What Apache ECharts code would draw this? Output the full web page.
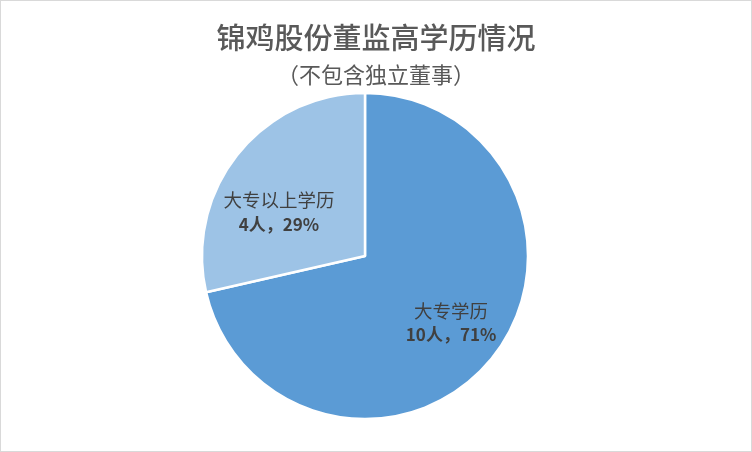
<!DOCTYPE html>
<html>
<head>
<meta charset="utf-8">
<script src="https://cdn.jsdelivr.net/npm/echarts@6/dist/echarts.min.js"></script>
<style>
html,body{margin:0;padding:0;background:#fff;}
#chart{width:750px;height:450px;border:1px solid #d9d9d9;}
</style>
</head>
<body>
<div id="chart"></div>
<script>
const titleText = '锦鸡股份董监高学历情况';
const subtitleText = '（不包含独立董事）';
const categories = ['大专学历', '大专以上学历'];
const values = [10, 4];
const colors = ['#5B9BD5', '#9DC3E6'];
const labelOffsets = [[20, 14], [-20, 9]];

const chart = echarts.init(document.getElementById('chart'));
chart.setOption({
  backgroundColor: '#fff',
  title: [
    { text: titleText, left: 'center', top: 17,
      textStyle: { fontFamily: 'Noto Sans CJK SC', fontSize: 29, fontWeight: 500, color: '#595959' } },
    { text: subtitleText, left: 'center', top: 58,
      textStyle: { fontFamily: 'Noto Sans CJK SC', fontSize: 22, fontWeight: 'normal', color: '#595959' } }
  ],
  series: [{
    type: 'pie',
    center: [364, 255],
    radius: 163,
    startAngle: 90,
    clockwise: true,
    percentPrecision: 0,
    animation: false,
    itemStyle: { borderColor: '#fff', borderWidth: 2.5 },
    label: {
      position: 'inside',
      formatter: '{a|{b}}\n{b2|{c}人，{d}%}',
      rich: {
        a: { fontFamily: 'Noto Sans CJK SC', fontSize: 18.5, color: '#404040', lineHeight: 24 },
        b2: { fontFamily: 'Noto Sans CJK SC', fontSize: 17, fontWeight: 'bold', color: '#404040', lineHeight: 24 }
      }
    },
    labelLine: { show: false },
    emphasis: { disabled: true },
    data: categories.map((c, i) => ({
      name: c, value: values[i],
      itemStyle: { color: colors[i] },
      label: { offset: labelOffsets[i] }
    }))
  }]
});
</script>
</body>
</html>
